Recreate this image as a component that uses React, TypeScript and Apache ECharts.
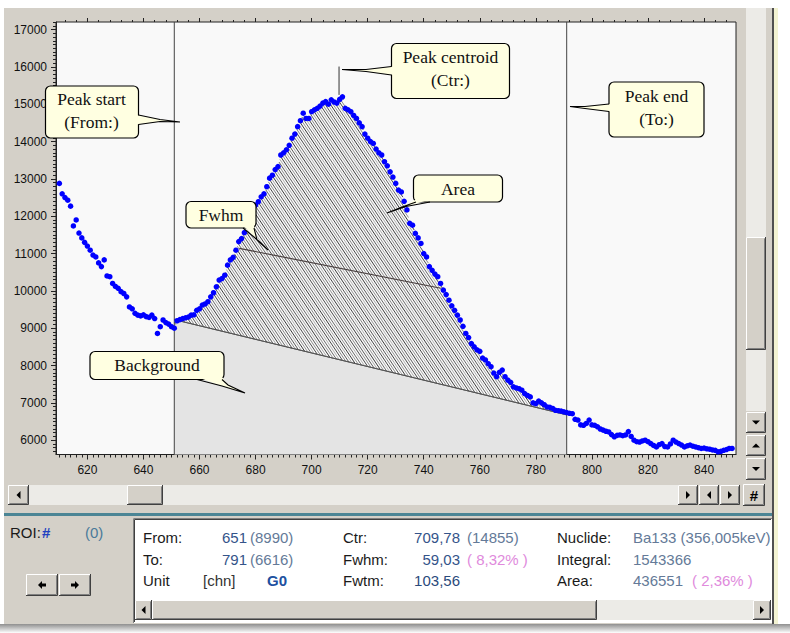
import React, { useEffect, useRef } from 'react';
import * as echarts from 'echarts';

// ---------------- data ----------------
const channelStart = 610;
const counts = [
  12880, 12600, 12500, 12430, 12270, 11740, 11900, 11550, 11420, 11300,
  11200, 11090, 10960, 10910, 10750, 10650, 10830, 10400, 10380, 10200,
  10120, 10070, 9980, 9930, 9840, 9570, 9520, 9400, 9350, 9330,
  9360, 9310, 9290, 9350, 9260, 8860, 9040, 9220, 9150, 9110,
  9040, 9000, 9200, 9230, 9260, 9280, 9300, 9350, 9360, 9480,
  9520, 9620, 9650, 9710, 9840, 9950, 10110, 10290, 10330, 10420,
  10690, 10830, 10900, 11090, 11320, 11400, 11560, 11800, 11950, 12150,
  12300, 12390, 12520, 12600, 12790, 13020, 13100, 13250, 13330, 13640,
  13700, 13780, 13900, 14090, 14200, 14400, 14560, 14760, 14620, 14620,
  14800, 14850, 14890, 14950, 15030, 15070, 15000, 15120, 15060, 15030,
  15130, 15200, 14890, 14850, 14800, 14700, 14620, 14500, 14400, 14200,
  14090, 14000, 13950, 13800, 13700, 13640, 13460, 13350, 13190, 13050,
  12880, 12700, 12650, 12400, 12170, 11810, 11760, 11540, 11420, 11270,
  11000, 10910, 10650, 10550, 10450, 10380, 10200, 10020, 9900, 9750,
  9600, 9480, 9350, 9220, 9050, 8860, 8750, 8590, 8500, 8420,
  8380, 8200, 8150, 8050, 7970, 7800, 7700, 7820, 7880, 7700,
  7610, 7550, 7430, 7400, 7380, 7340, 7250, 7200, 7160, 7000,
  6980, 7050, 7000, 6950, 6890, 6880, 6850, 6800, 6790, 6780,
  6760, 6740, 6720, 6710, 6560, 6540, 6410, 6400, 6450, 6540,
  6410, 6400, 6360, 6300, 6270, 6240, 6220, 6150, 6090, 6130,
  6140, 6120, 6140, 6230, 6100, 6000, 5960, 5950, 5980, 6000,
  5960, 5910, 5860, 5820, 5880, 5910, 5830, 5820, 5900, 6000,
  5950, 5910, 5870, 5820, 5850, 5870, 5840, 5820, 5800, 5780,
  5790, 5770, 5760, 5740, 5730, 5690, 5700, 5730, 5750, 5780,
  5780,
];
const roiFrom = 651;
const roiTo = 791;
const backgroundLine = [[651, 9230], [791, 6680]];
const fwhmLine = [[674.2, 11140], [746.1, 10070]];
const centroidMarker = [[709.78, 15250], [709.78, 16010]];

const X_MIN = 608.8;
const X_MAX = 851.4;
const Y_MIN = 5617;
const Y_MAX = 17203;
const xLabels = [620, 640, 660, 680, 700, 720, 740, 760, 780, 800, 820, 840];
const yLabels = [6000, 7000, 8000, 9000, 10000, 11000, 12000, 13000, 14000, 15000, 16000, 17000];

const xMinorTicks: number[] = [];
for (let v = 610; v <= 850; v += 2) xMinorTicks.push(v);
const xTopMinorTicks: number[] = [];
for (let v = 612; v <= 848; v += 4) xTopMinorTicks.push(v);
const yMinorTicks: number[] = [];
for (let v = 5700; v <= 17200; v += 100) yMinorTicks.push(v);

// info panel texts
const panelLabels = [
  ['From:', 'Ctr:', 'Nuclide:'],
  ['To:', 'Fwhm:', 'Integral:'],
  ['Unit', 'Fwtm:', 'Area:'],
];
const fromVals = ['651', '(8990)'];
const toVals = ['791', '(6616)'];
const unitVals = ['[chn]', 'G0'];
const ctrVals = ['709,78', '(14855)'];
const fwhmVals = ['59,03', '( 8,32% )'];
const fwtmVals = ['103,56'];
const nuclideVal = 'Ba133 (356,005keV)';
const integralVal = '1543366';
const areaVals = ['436551', '( 2,36% )'];

// ---------------- helpers ----------------
const GRAY = '#d4d0c8';
const TRACK = '#ecebe7';

function bevel(x: number, y: number, w: number, h: number, fill = GRAY): any[] {
  return [
    { type: 'rect', shape: { x, y, width: w, height: h }, style: { fill } },
    { type: 'polyline', shape: { points: [[x + 0.5, y + h - 1], [x + 0.5, y + 0.5], [x + w - 1, y + 0.5]] }, style: { stroke: '#ffffff', lineWidth: 1 } },
    { type: 'polyline', shape: { points: [[x, y + h - 0.5], [x + w - 0.5, y + h - 0.5], [x + w - 0.5, y]] }, style: { stroke: '#404040', lineWidth: 1 } },
    { type: 'polyline', shape: { points: [[x + 1.5, y + h - 1.5], [x + w - 1.5, y + h - 1.5], [x + w - 1.5, y + 1.5]] }, style: { stroke: '#808080', lineWidth: 1 } },
  ];
}

function tri(cx: number, cy: number, dir: string, s = 4): any {
  let pts: number[][];
  if (dir === 'right') pts = [[cx - s / 2, cy - s], [cx + s / 2, cy], [cx - s / 2, cy + s]];
  else if (dir === 'left') pts = [[cx + s / 2, cy - s], [cx - s / 2, cy], [cx + s / 2, cy + s]];
  else if (dir === 'up') pts = [[cx - s, cy + s / 2], [cx, cy - s / 2], [cx + s, cy + s / 2]];
  else pts = [[cx - s, cy - s / 2], [cx, cy + s / 2], [cx + s, cy - s / 2]];
  return { type: 'polygon', shape: { points: pts }, style: { fill: '#000' } };
}

function arrow(cx: number, cy: number, dir: 'left' | 'right'): any[] {
  const d = dir === 'left' ? -1 : 1;
  return [
    { type: 'polygon', shape: { points: [[cx + d * 4, cy], [cx, cy - 4], [cx, cy + 4]] }, style: { fill: '#000' } },
    { type: 'rect', shape: { x: dir === 'left' ? cx : cx - 4, y: cy - 1.5, width: 4, height: 3 }, style: { fill: '#000' } },
  ];
}

function txt(text: string, x: number, y: number, fill: string, align = 'left', size = 15, weight = 'normal', family = 'Liberation Sans'): any {
  return {
    type: 'text',
    style: { text, x, y, fill, fontSize: size, fontFamily: family, fontWeight: weight, textAlign: align, textVerticalAlign: 'middle' },
  };
}

function callout(box: number[], lines: string[], cx: number, ys: number[], tailLine: number[][], tailFill: number[][]): any[] {
  const [x, y, w, h] = box;
  const els: any[] = [
    { type: 'rect', shape: { x, y, width: w, height: h, r: 5 }, style: { fill: '#ffffe1', stroke: '#000', lineWidth: 1.2 } },
    { type: 'polygon', shape: { points: tailFill }, style: { fill: '#ffffe1' } },
    { type: 'polyline', shape: { points: tailLine }, style: { stroke: '#000', lineWidth: 1.1 } },
  ];
  lines.forEach((l, i) => {
    els.push({
      type: 'text',
      style: { text: l, x: cx, y: ys[i], fill: '#111', fontSize: 17.5, fontFamily: 'Liberation Serif', textAlign: 'center', textVerticalAlign: 'middle' },
    });
  });
  return els;
}

function withZ(els: any[], z: number): any[] {
  return els.map((e, i) => ({ ...e, z, z2: i }));
}

// ---------------- component ----------------
export default function App() {
  const ref = useRef<HTMLDivElement>(null);

  useEffect(() => {
    if (!ref.current) return;
    const chart = echarts.init(ref.current, undefined, { renderer: 'svg' });

    const scatterData = counts.map((v, i) => [channelStart + i, v]);
    const hatchColors = ['#8a8a8a', '#5a5a5a', '#a8a8a8', '#3a3a3a', '#959595', '#6a6a6a', '#b0b0b0', '#4a4a4a'];

    const axisLabelStyle = { color: '#111', fontSize: 12, fontFamily: 'Liberation Sans', formatter: (v: number) => String(v) };
    const tickLine = { color: '#222', width: 1 };

    const baseX = { type: 'value', min: X_MIN, max: X_MAX, splitLine: { show: false }, axisLine: { show: false } };
    const baseY = { type: 'value', min: Y_MIN, max: Y_MAX, splitLine: { show: false }, axisLine: { show: false } };

    const chrome: any[] = [];
    // outer white margins
    chrome.push({ type: 'rect', shape: { x: 0, y: 0, width: 790, height: 8 }, style: { fill: '#fff' } });
    chrome.push({ type: 'rect', shape: { x: 0, y: 0, width: 4, height: 633 }, style: { fill: '#fff' } });
    chrome.push({ type: 'rect', shape: { x: 778, y: 0, width: 12, height: 633 }, style: { fill: '#fff' } });
    chrome.push({ type: 'rect', shape: { x: 772, y: 8, width: 2, height: 617 }, style: { fill: '#505050' } });
    chrome.push({ type: 'rect', shape: { x: 774, y: 8, width: 4, height: 617 }, style: { fill: '#f3f3d2' } });
    chrome.push({
      type: 'rect', shape: { x: 0, y: 624, width: 790, height: 9 },
      style: { fill: new echarts.graphic.LinearGradient(0, 0, 0, 1, [{ offset: 0, color: '#8f8f8f' }, { offset: 1, color: '#ffffff' }]) },
    });
    // vertical scrollbar
    chrome.push({ type: 'rect', shape: { x: 746, y: 8, width: 20, height: 403 }, style: { fill: TRACK } });
    chrome.push(...bevel(746, 237, 20, 113));
    chrome.push(...bevel(746, 412, 20, 21), tri(756, 422.5, 'down', 4));
    chrome.push(...bevel(746, 435, 20, 21), tri(756, 445.5, 'up', 4));
    chrome.push(...bevel(746, 458, 20, 22), tri(756, 469, 'down', 4));
    // horizontal scrollbar
    chrome.push({ type: 'rect', shape: { x: 8, y: 485, width: 670, height: 20 }, style: { fill: TRACK } });
    chrome.push(...bevel(8, 485, 21, 20), tri(18.5, 495, 'left', 4));
    chrome.push(...bevel(127, 485, 36, 20));
    chrome.push(...bevel(678, 485, 20, 20), tri(688, 495, 'right', 4));
    chrome.push(...bevel(699, 485, 20, 20), tri(709, 495, 'left', 4));
    chrome.push(...bevel(720, 485, 20, 20), tri(730, 495, 'right', 4));
    chrome.push(...bevel(743, 484, 22, 22));
    chrome.push(txt('#', 754, 495.5, '#000', 'center', 15, 'bold'));
    // teal separator
    chrome.push({ type: 'rect', shape: { x: 4, y: 513, width: 768, height: 3 }, style: { fill: '#4b8595' } });
    // left ROI panel
    chrome.push(txt('ROI:', 10, 532, '#1a1a1a'));
    chrome.push(txt('#', 42, 532, '#2040c0', 'left', 15, 'bold'));
    chrome.push(txt('(0)', 85, 532, '#4a7a9a'));
    chrome.push(...bevel(26, 574, 32, 22), ...arrow(42, 585, 'left'));
    chrome.push(...bevel(59, 574, 32, 22), ...arrow(75, 585, 'right'));
    // info panel
    chrome.push({ type: 'rect', shape: { x: 133, y: 518, width: 639, height: 105 }, style: { fill: '#fff' } });
    chrome.push({ type: 'polyline', shape: { points: [[133.5, 623], [133.5, 518.5], [772, 518.5]] }, style: { stroke: '#808080', lineWidth: 1 } });
    chrome.push({ type: 'polyline', shape: { points: [[134.5, 622], [134.5, 519.5], [771, 519.5]] }, style: { stroke: '#404040', lineWidth: 1 } });
    chrome.push({ type: 'rect', shape: { x: 135, y: 600, width: 636, height: 20 }, style: { fill: TRACK } });
    chrome.push(...bevel(135, 600, 17, 20), tri(143.5, 610, 'left', 4));
    chrome.push(...bevel(152, 600, 445, 20));
    chrome.push(...bevel(753, 600, 18, 20), tri(762, 610, 'right', 4));

    const rowY = [537, 559, 580];
    const labelCol = [143, 343, 557];
    panelLabels.forEach((row, r) => row.forEach((l, c) => chrome.push(txt(l, labelCol[c], rowY[r], '#1a1a1a'))));
    const NUM = '#34548a';
    const SUB = '#647a98';
    const PINK = '#e08adc';
    chrome.push(txt(fromVals[0], 247, rowY[0], NUM, 'right'));
    chrome.push(txt(fromVals[1], 250, rowY[0], SUB));
    chrome.push(txt(toVals[0], 247, rowY[1], NUM, 'right'));
    chrome.push(txt(toVals[1], 250, rowY[1], SUB));
    chrome.push(txt(unitVals[0], 203, rowY[2], '#333'));
    chrome.push(txt(unitVals[1], 267, rowY[2], '#2050a0', 'left', 15, 'bold'));
    chrome.push(txt(ctrVals[0], 460, rowY[0], NUM, 'right'));
    chrome.push(txt(ctrVals[1], 467, rowY[0], SUB));
    chrome.push(txt(fwhmVals[0], 460, rowY[1], NUM, 'right'));
    chrome.push(txt(fwhmVals[1], 467, rowY[1], PINK));
    chrome.push(txt(fwtmVals[0], 460, rowY[2], '#2a4a7c', 'right'));
    chrome.push(txt(nuclideVal, 633, rowY[0], SUB));
    chrome.push(txt(integralVal, 633, rowY[1], SUB));
    chrome.push(txt(areaVals[0], 633, rowY[2], SUB));
    chrome.push(txt(areaVals[1], 692, rowY[2], PINK));

    const callouts: any[] = [];
    callouts.push(...callout([45.5, 86, 93, 52], ['Peak start', '(From:)'], 91.5, [98.5, 121.5],
      [[138.5, 115], [160, 119.5], [180, 122], [160, 121.5], [138.5, 124.5]],
      [[136, 115], [160, 119.5], [180, 122], [160, 121.5], [136, 124.5]]));
    callouts.push(...callout([391.5, 43.5, 118, 55], ['Peak centroid', '(Ctr:)'], 450.5, [57, 80],
      [[391.5, 66.5], [366, 69.5], [342, 69.5], [366, 71.5], [391.5, 75]],
      [[394, 66.5], [366, 69.5], [342, 69.5], [366, 71.5], [394, 75]]));
    callouts.push(...callout([609, 82, 95, 55], ['Peak end', '(To:)'], 656.5, [96, 119],
      [[609, 104], [585, 106.5], [570, 106.5], [585, 108.5], [609, 111.5]],
      [[611.5, 104], [585, 106.5], [570, 106.5], [585, 108.5], [611.5, 111.5]]));
    callouts.push(...callout([413.5, 175, 89, 27], ['Area'], 458, [188.5],
      [[416, 202], [402, 207], [387, 213], [406, 206.5], [430, 202]],
      [[416, 199.5], [402, 207], [387, 213], [406, 206.5], [430, 199.5]]));
    callouts.push(...callout([186, 201.5, 70, 26.5], ['Fwhm'], 221, [214.5],
      [[243, 228], [261, 243], [268, 250], [257, 240], [254, 228]],
      [[243, 225.5], [261, 243], [268, 250], [257, 240], [254, 225.5]]));
    callouts.push(...callout([90, 351.5, 134, 28], ['Background'], 157, [365],
      [[197, 379.5], [222, 386], [245, 393], [228, 385], [222, 379.5]],
      [[197, 377], [222, 386], [245, 393], [228, 385], [222, 377]]));

    const option: any = {
      animation: false,
      backgroundColor: GRAY,
      grid: {
        left: 56, right: 54, top: 22, bottom: 178.5,
        show: true, backgroundColor: '#f9f9f9', borderColor: '#222', borderWidth: 1,
        outerBoundsMode: 'none',
      },
      xAxis: [
        {
          ...baseX, position: 'bottom',
          axisLine: { show: true, lineStyle: { color: '#222' } },
          axisTick: { show: true, customValues: xLabels, length: 5, lineStyle: tickLine },
          axisLabel: { customValues: xLabels, margin: 9, ...axisLabelStyle },
        },
        { ...baseX, position: 'bottom', axisTick: { show: true, customValues: xMinorTicks, length: 3, lineStyle: tickLine }, axisLabel: { show: false } },
        { ...baseX, position: 'top', axisTick: { show: true, customValues: xLabels, length: 4, lineStyle: tickLine }, axisLabel: { show: false } },
        { ...baseX, position: 'top', axisTick: { show: true, customValues: xTopMinorTicks, length: 2, lineStyle: tickLine }, axisLabel: { show: false } },
      ],
      yAxis: [
        {
          ...baseY, position: 'left',
          axisLine: { show: true, lineStyle: { color: '#222' } },
          axisTick: { show: true, customValues: yLabels, length: 5, lineStyle: tickLine },
          axisLabel: { customValues: yLabels, margin: 9, ...axisLabelStyle },
        },
        { ...baseY, position: 'left', axisTick: { show: true, customValues: yMinorTicks, length: 3, lineStyle: tickLine }, axisLabel: { show: false } },
      ],
      series: [
        {
          type: 'line', data: backgroundLine, symbol: 'none', z: 1,
          lineStyle: { color: '#555', width: 1 },
          areaStyle: { color: '#e4e4e4', origin: 'start', opacity: 1 },
        },
        {
          type: 'custom', z: 2, data: [[roiFrom, backgroundLine[0][1]]],
          renderItem: (_params: any, api: any) => {
            const pts: number[][] = [];
            for (let ch = roiFrom; ch <= roiTo; ch++) pts.push(api.coord([ch, counts[ch - channelStart]]));
            pts.push(api.coord(backgroundLine[1]));
            pts.push(api.coord(backgroundLine[0]));
            const dx = 1, dy = 1.5;
            const L = Math.hypot(dx, dy);
            const ux = dx / L, uy = dy / L;
            const nx = uy, ny = -ux;
            let cmin = Infinity, cmax = -Infinity;
            pts.forEach((p) => {
              const c = nx * p[0] + ny * p[1];
              cmin = Math.min(cmin, c);
              cmax = Math.max(cmax, c);
            });
            const children: any[] = [];
            const step = 2.2;
            let k = 0;
            for (let c = cmin + step / 2; c < cmax; c += step, k++) {
              const hits: { u: number; x: number; y: number }[] = [];
              for (let i = 0; i < pts.length; i++) {
                const a = pts[i], b = pts[(i + 1) % pts.length];
                const sa = nx * a[0] + ny * a[1] - c;
                const sb = nx * b[0] + ny * b[1] - c;
                if ((sa < 0) !== (sb < 0)) {
                  const t = sa / (sa - sb);
                  const x = a[0] + t * (b[0] - a[0]);
                  const y = a[1] + t * (b[1] - a[1]);
                  hits.push({ u: ux * x + uy * y, x, y });
                }
              }
              hits.sort((p, q) => p.u - q.u);
              for (let j = 0; j + 1 < hits.length; j += 2) {
                children.push({
                  type: 'line',
                  shape: { x1: hits[j].x, y1: hits[j].y, x2: hits[j + 1].x, y2: hits[j + 1].y },
                  style: { stroke: hatchColors[k % hatchColors.length], lineWidth: 1 },
                });
              }
            }
            return { type: 'group', children };
          },
        },
        {
          type: 'line', data: backgroundLine, symbol: 'none', z: 3,
          lineStyle: { color: '#555', width: 1 },
        },
        {
          type: 'line', data: fwhmLine, symbol: 'none', z: 3,
          lineStyle: { color: '#4a4040', width: 1.2 },
        },
        {
          type: 'line', data: [[roiFrom, Y_MIN], [roiFrom, Y_MAX]], symbol: 'none', z: 3,
          lineStyle: { color: '#444', width: 1 },
        },
        {
          type: 'line', data: [[roiTo, Y_MIN], [roiTo, Y_MAX]], symbol: 'none', z: 3,
          lineStyle: { color: '#444', width: 1 },
        },
        {
          type: 'line', data: centroidMarker, symbol: 'none', z: 3,
          lineStyle: { color: '#333', width: 1 },
        },
        {
          type: 'scatter', data: scatterData, symbol: 'circle', symbolSize: 5.5, z: 5,
          itemStyle: { color: '#0000ff', opacity: 1 },
        },
      ],
      graphic: { elements: [...withZ(chrome, 50), ...withZ(callouts, 100)] },
    };

    chart.setOption(option);
    return () => chart.dispose();
  }, []);

  return <div ref={ref} style={{ position: 'fixed', left: 0, top: 0, width: 790, height: 633 }} />;
}
